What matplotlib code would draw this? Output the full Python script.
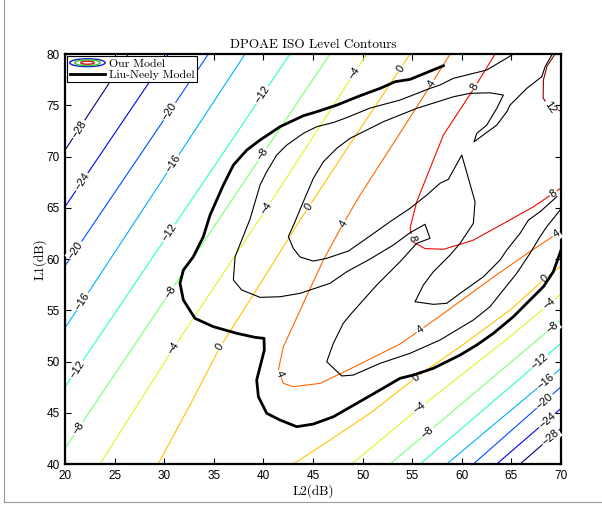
"""
DPOAE iso-level contours: our model (coloured, labelled) against Liu-Neely (black).
"""

import numpy as np
import matplotlib

matplotlib.use("Agg")

import matplotlib.pyplot as plt
from matplotlib.legend_handler import HandlerBase
from matplotlib.lines import Line2D
from matplotlib.patches import Ellipse

# --- our model: contour levels and traced iso-level lines (L2, L1 in dB) ---
LEVELS = [-28, -24, -20, -16, -12, -8, -4, 0, 4, 8, 12]

m28_a_l2, m28_a_l1 = [26.38, 20.0], [80.0, 70.63]
m24_a_l2, m24_a_l1 = [30.41, 20.0], [80.0, 65.10]
m20_a_l2, m20_a_l1 = [34.45, 20.0], [80.0, 59.32]
m16_a_l2, m16_a_l1 = [38.15, 20.0], [80.0, 53.27]
m12_a_l2, m12_a_l1 = [42.68, 20.0], [80.0, 47.51]
m8_a_l2, m8_a_l1 = [46.71, 20.0], [80.0, 41.53]
m4_a_l2 = [50.41, 40.33, 30.92, 23.53]
m4_a_l1 = [80.0, 64.95, 51.29, 40.0]
z0_a_l2 = [54.78, 48.73, 43.69, 39.66, 35.63, 32.60, 29.38]
z0_a_l1 = [80.0, 71.22, 63.80, 57.56, 51.41, 45.76, 40.0]
p4_l2 = [58.81, 56.97, 53.77, 49.74, 48.06, 46.04, 44.02, 42.01, 41.50,
         42.01, 43.01, 45.71, 48.73, 53.77, 57.80, 63.18, 66.79, 70.0]
p4_l1 = [80.0, 77.14, 72.29, 66.24, 63.48, 59.90, 55.68, 51.44, 49.17,
         47.87, 47.54, 47.87, 49.27, 51.71, 54.44, 58.24, 60.68, 62.73]
p8_l2 = [63.35, 61.33, 58.14, 55.45, 54.78, 55.08, 56.29, 58.14, 60.15,
         61.16, 64.53, 67.21, 70.0]
p8_l1 = [80.0, 76.81, 72.10, 65.59, 63.02, 61.66, 61.02, 60.95, 61.53,
         61.85, 63.64, 65.10, 66.93]
p12_l2 = [69.40, 68.59, 68.22, 68.19, 68.89, 70.0]
p12_l1 = [80.0, 78.83, 77.46, 75.71, 74.73, 74.44]
z0_b_l2 = [43.01, 46.71, 50.75, 55.45, 59.82, 64.86, 68.56, 70.0]
z0_b_l1 = [40.0, 42.34, 44.95, 48.49, 51.44, 55.02, 58.24, 59.32]
m4_b_l2, m4_b_l1 = [48.90, 55.45, 64.86, 70.0], [40.0, 45.27, 52.42, 56.59]
m8_b_l2, m8_b_l1 = [52.76, 70.0], [40.0, 54.05]
m12_b_l2, m12_b_l1 = [55.79, 70.0], [40.0, 51.78]
m16_b_l2, m16_b_l1 = [58.48, 70.0], [40.0, 49.34]
m20_b_l2, m20_b_l1 = [61.16, 70.0], [40.0, 47.54]
m24_b_l2, m24_b_l1 = [63.52, 70.0], [40.0, 45.43]
m28_b_l2, m28_b_l1 = [65.87, 70.0], [40.0, 43.48]

PIECES = [
    (-28, m28_a_l2, m28_a_l1), (-24, m24_a_l2, m24_a_l1),
    (-20, m20_a_l2, m20_a_l1), (-16, m16_a_l2, m16_a_l1),
    (-12, m12_a_l2, m12_a_l1), (-8, m8_a_l2, m8_a_l1),
    (-4, m4_a_l2, m4_a_l1), (0, z0_a_l2, z0_a_l1),
    (4, p4_l2, p4_l1), (8, p8_l2, p8_l1), (12, p12_l2, p12_l1),
    (0, z0_b_l2, z0_b_l1), (-4, m4_b_l2, m4_b_l1), (-8, m8_b_l2, m8_b_l1),
    (-12, m12_b_l2, m12_b_l1), (-16, m16_b_l2, m16_b_l1),
    (-20, m20_b_l2, m20_b_l1), (-24, m24_b_l2, m24_b_l1),
    (-28, m28_b_l2, m28_b_l1),
]

# inline contour labels (level and approximate spot)
label_lev = [-28, -24, -20, -20, -16, -16, -12, -12, -12, -8, -8, -8,
             -4, -4, -4, 0, 0, 0, 4, 4, 4, 4, 4, 8, 8, 8, 12,
             0, 0, -4, -4, -8, -8, -12, -16, -20, -24, -28]
label_l2 = [21.51, 21.68, 30.58, 21.01, 31.09, 21.51, 39.66, 30.58, 21.01,
            39.99, 30.58, 21.34, 49.41, 40.33, 30.92, 53.77, 44.53, 35.63,
            56.97, 48.06, 41.37, 55.79, 69.57, 61.33, 54.95, 69.22, 68.72,
            55.45, 68.39, 55.96, 68.72, 56.46, 69.06, 67.88, 68.22, 68.39,
            68.56, 68.89]
label_l1 = [72.59, 67.54, 74.37, 60.88, 69.17, 56.00, 76.17, 62.51, 49.34,
            70.15, 56.81, 43.48, 77.95, 64.95, 51.29, 78.60, 65.10, 51.44,
            77.14, 63.48, 48.68, 53.07, 62.34, 76.81, 62.02, 66.41, 74.70,
            48.36, 58.12, 45.27, 55.68, 43.15, 53.40, 49.98, 48.36, 46.08,
            44.29, 42.66]

# --- Liu-Neely model contours (traced) ---
ln_thick_l2 = [58.14, 54.78, 53.27, 51.75, 49.74, 47.39, 45.37, 44.02, 41.67,
               39.66, 38.32, 36.97, 35.96, 34.62, 33.94, 32.93, 31.93, 31.59,
               31.93, 33.10, 34.95, 37.31, 39.15, 40.06, 40.09, 39.66, 39.32,
               39.49, 40.33, 41.67, 43.36, 45.03, 47.05, 49.41, 51.75, 53.77,
               55.11, 57.13, 59.82, 61.50, 63.18, 65.19, 66.54, 68.22, 69.22,
               70.0]
ln_thick_l1 = [78.86, 77.53, 77.30, 76.65, 75.93, 75.02, 74.37, 73.98, 72.91,
               71.61, 70.63, 69.17, 67.22, 64.29, 62.18, 60.22, 58.93, 57.63,
               56.00, 54.21, 53.40, 52.75, 52.36, 52.26, 51.12, 49.49, 48.20,
               46.57, 44.95, 44.29, 43.64, 43.90, 44.61, 45.92, 47.22, 48.36,
               48.68, 49.34, 50.63, 51.61, 52.75, 54.37, 55.68, 57.30, 58.76,
               60.88]
ln_outer_l2 = [65.03, 62.51, 59.14, 57.80, 56.79, 53.77, 50.75, 48.40, 47.05,
               45.37, 44.02, 42.35, 41.34, 40.33, 39.66, 38.65, 37.81, 37.14,
               36.97, 37.81, 39.66, 41.67, 43.69, 46.71, 48.40, 50.75, 53.10,
               54.78, 56.29, 56.79, 55.45, 53.77, 51.42, 50.07, 48.73, 48.05,
               47.05, 46.38, 47.89, 49.06, 51.75, 54.78, 57.80, 61.16, 62.84,
               64.18, 65.53, 66.87, 67.88, 68.56, 69.90]
ln_outer_l1 = [79.90, 78.44, 77.63, 76.98, 76.65, 75.51, 74.73, 73.80, 73.32,
               72.91, 72.26, 71.12, 70.15, 68.52, 67.22, 63.90, 61.85, 60.22,
               57.95, 56.98, 56.26, 56.32, 56.65, 57.63, 58.76, 60.00, 61.37,
               62.57, 63.39, 62.02, 61.53, 59.74, 57.46, 56.00, 54.54, 53.73,
               51.78, 49.98, 48.59, 48.68, 49.82, 50.80, 52.10, 54.05, 55.35,
               56.98, 58.60, 60.56, 62.18, 63.15, 64.78]
ln_inner_l2 = [69.06, 68.39, 68.06, 66.54, 64.86, 64.53, 63.52, 61.23, 61.50,
               62.51, 63.52, 64.18, 62.84, 60.83, 59.14, 55.45, 52.09, 49.74,
               48.73, 47.39, 46.04, 45.03, 44.02, 43.08, 42.51, 43.01, 43.69,
               45.03, 46.38, 48.56, 50.41, 52.76, 54.78, 56.46, 57.80, 58.64,
               59.99, 61.33, 61.16, 59.82, 58.81, 57.13, 56.12, 55.28, 57.13,
               58.48, 59.82, 62.17, 63.85, 64.53, 65.87, 66.71, 67.88, 69.57]
ln_inner_l1 = [79.90, 78.76, 77.79, 76.65, 75.02, 74.37, 73.07, 71.44, 72.26,
               73.07, 74.70, 76.00, 76.22, 76.17, 75.83, 74.70, 73.40, 72.26,
               71.78, 70.80, 69.49, 67.87, 65.59, 63.41, 62.18, 61.04, 60.20,
               59.80, 60.07, 60.78, 62.02, 63.64, 64.95, 66.24, 67.39, 67.78,
               70.15, 65.59, 63.48, 61.53, 60.39, 58.76, 57.46, 55.83, 55.58,
               55.68, 56.65, 58.27, 59.90, 60.88, 62.51, 63.80, 64.61, 66.08]

X_TICKS = list(range(20, 71, 5))
Y_TICKS = list(range(40, 81, 5))

SERIF = ["cmr10", "DejaVu Serif"]
SANS = ["Liberation Sans", "DejaVu Sans"]


class NestedRingsHandler(HandlerBase):
    """Legend icon: three nested ellipses like a small contour plot."""

    def create_artists(self, legend, orig_handle, xdescent, ydescent,
                       width, height, fontsize, trans):
        cx = 0.5 * width - xdescent
        cy = 0.5 * height - ydescent
        rings = []
        for scale, col in [(1.0, "#1a1acc"), (0.72, "#33cc33"), (0.38, "#cc1a1a")]:
            rings.append(Ellipse((cx, cy), width * scale, height * 1.0 * scale,
                                 fill=False, edgecolor=col, linewidth=1.0,
                                 transform=trans))
        return rings


def snap_label(ax, level, l2, l1):
    """Move a label spot onto the nearest traced line and get its angle."""
    p = ax.transData.transform((l2, l1))
    best = None
    for lev, xs, ys in PIECES:
        if lev != level:
            continue
        pts = ax.transData.transform(np.column_stack([xs, ys]))
        for a, b in zip(pts[:-1], pts[1:]):
            d = b - a
            t = np.clip(np.dot(p - a, d) / np.dot(d, d), 0.0, 1.0)
            q = a + t * d
            dist = np.hypot(*(p - q))
            if best is None or dist < best[0]:
                best = (dist, q, d)
    _, q, d = best
    ang = np.degrees(np.arctan2(d[1], d[0]))
    if ang > 90:
        ang -= 180
    elif ang < -90:
        ang += 180
    x, y = ax.transData.inverted().transform(q)
    return x, y, ang


fig = plt.figure(figsize=(6.02, 5.08), dpi=100)
ax = fig.add_axes([0.108, 0.0866, 0.824, 0.807])
ax.set_xlim(20, 70)
ax.set_ylim(40, 80)

# colours follow MATLAB's jet spread over the plotted level range
cmap = plt.get_cmap("jet")
norm = plt.Normalize(min(LEVELS), max(LEVELS))

for lev, xs, ys in PIECES:
    ax.plot(xs, ys, color=cmap(norm(lev)), linewidth=0.8, zorder=2,
            solid_joinstyle="round")

for lev, lx, ly in zip(label_lev, label_l2, label_l1):
    x, y, ang = snap_label(ax, lev, lx, ly)
    ax.text(x, y, str(lev).replace("-", "\u2212"), rotation=ang,
            rotation_mode="anchor", ha="center", va="center",
            fontsize=8, family=SANS, zorder=3,
            bbox=dict(boxstyle="square,pad=0.1", fc="white", ec="none"))

ax.plot(ln_outer_l2, ln_outer_l1, color="black", linewidth=0.8, zorder=4)
ax.plot(ln_inner_l2, ln_inner_l1, color="black", linewidth=0.8, zorder=4)
ax.plot(ln_thick_l2, ln_thick_l1, color="black", linewidth=2.0, zorder=4,
        solid_joinstyle="round")

ax.set_xticks(X_TICKS)
ax.set_yticks(Y_TICKS)
ax.tick_params(direction="in", top=True, right=True, length=4, width=0.8,
               labelsize=8.5, pad=4)
for lab in ax.get_xticklabels() + ax.get_yticklabels():
    lab.set_family(SANS)
for sp in ax.spines.values():
    sp.set_linewidth(1.6)

ax.set_title("DPOAE ISO Level Contours", family=SERIF, fontsize=9.5, pad=4)
ax.set_xlabel("L2(dB)", family=SERIF, fontsize=9.5, labelpad=2)
ax.set_ylabel("L1(dB)", family=SERIF, fontsize=9.5, labelpad=0)

ours = object()
liu = Line2D([], [], color="black", linewidth=2.0)
leg = ax.legend([ours, liu], ["Our Model", "Liu-Neely Model"],
                handler_map={ours: NestedRingsHandler()},
                loc="upper left", bbox_to_anchor=(0.0, 1.0),
                borderaxespad=0.2, handlelength=3.0, handleheight=0.65,
                handletextpad=0.35, borderpad=0.2, labelspacing=0.1,
                fancybox=False, framealpha=1.0,
                prop={"family": SERIF, "size": 8.5})
leg.get_frame().set_edgecolor("black")
leg.get_frame().set_linewidth(0.8)
leg.set_zorder(6)

# thin page border seen along the left and bottom of the original
fig.add_artist(Line2D([0.006, 0.006], [0.012, 1.0], color="#9a9a9a", linewidth=0.8))
fig.add_artist(Line2D([0.006, 1.0], [0.012, 0.012], color="#9a9a9a", linewidth=0.8))

fig.savefig("out.png", dpi=100)
